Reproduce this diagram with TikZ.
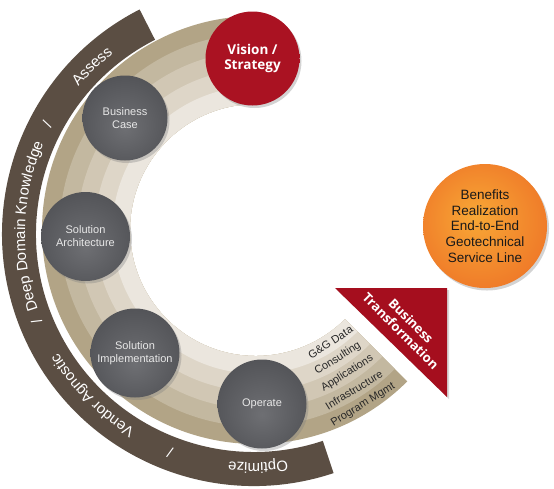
\documentclass[tikz,border=0pt]{standalone}
\usepackage{fontspec}
\setmainfont{Liberation Sans}
\newfontfamily\headfont{Open Sans}
\usetikzlibrary{decorations.text, shadows}

\definecolor{ringbrown}{RGB}{91,78,67}
\definecolor{bandA}{RGB}{235,230,222}
\definecolor{bandB}{RGB}{222,214,200}
\definecolor{bandC}{RGB}{209,199,180}
\definecolor{bandD}{RGB}{195,184,160}
\definecolor{bandE}{RGB}{178,164,134}
\definecolor{stratred}{RGB}{165,14,30}
\definecolor{visin}{RGB}{170,18,34}
\definecolor{visout}{RGB}{140,10,24}
\definecolor{ballin}{RGB}{110,111,115}
\definecolor{ballout}{RGB}{56,57,61}
\definecolor{phasetext}{RGB}{232,232,232}
\definecolor{orin}{RGB}{248,168,54}
\definecolor{orout}{RGB}{232,86,30}
\definecolor{layertext}{RGB}{40,40,40}

\pgfdeclareradialshading{darkball}{\pgfpoint{0bp}{-6bp}}{color(0bp)=(ballin); color(28bp)=(ballin!50!ballout); color(50bp)=(ballout)}
\pgfdeclareradialshading{redball}{\pgfpoint{0bp}{0bp}}{color(0bp)=(visin); color(38bp)=(visin); color(50bp)=(visout)}
\pgfdeclareradialshading{orangeball}{\pgfpoint{-4bp}{4bp}}{color(0bp)=(orin); color(50bp)=(orout)}

\newcommand\bandfont{\color{white}\fontsize{15}{15}\selectfont}

\begin{document}
\begin{tikzpicture}[x=1pt, y=1pt,
    phase/.style={circle, minimum size=#1, inner sep=0pt, align=center, shading=darkball,
        text=phasetext, font=\fontsize{11}{13}\selectfont,
        drop shadow={shadow xshift=2pt, shadow yshift=-2.5pt, opacity=0.35}},
    phase/.default=89pt,
    goal/.style={circle, minimum size=94pt, inner sep=0pt, align=center, shading=redball,
        text=white, font=\headfont\bfseries\fontsize{13.5}{15}\selectfont,
        drop shadow={shadow xshift=2pt, shadow yshift=-2.5pt, opacity=0.35}},
    outcome/.style={circle, minimum size=124pt, inner sep=0pt, align=center, shading=orangeball,
        text=black!90, font=\fontsize{13.5}{15.7}\selectfont,
        drop shadow={shadow xshift=2pt, shadow yshift=-2.5pt, opacity=0.35}},
    layer/.style={text=layertext, font=\fontsize{11}{12}\selectfont, inner sep=0pt},
    ringtext/.style={decorate, decoration={text along path, text align=center, text={|\bandfont|#1}}}]
    \useasboundingbox (0,-488) rectangle (554,0);

    % beige band with its five layers
    \begin{scope}[shift={(256,-230)}]
        \begin{scope}
            \clip (9.4,9.8) -- (296.5,-269.6) -- (-400,-400) -- (-400,400) -- (0,400) -- cycle;
            \foreach \r/\c in {214/bandE, 196.4/bandD, 178.8/bandC, 161.2/bandB, 143.6/bandA}
                \fill[\c] (96:126) arc[start angle=96, end angle=315, radius=126] -- (315:\r) arc[start angle=315, end angle=96, radius=\r] -- cycle;
        \end{scope}
        \node[layer, rotate=33.5] (ggdata) at (-56.5:134.8) {G\&G Data};
        \node[layer, rotate=32.5] (consult) at (-57.5:152.4) {Consulting};
        \node[layer, rotate=32.5] (apps) at (-57.5:170) {Applications};
        \node[layer, rotate=31.5] (infra) at (-58.5:187.6) {Infrastructure};
        \node[layer, rotate=31.5] (progmgmt) at (-58.5:205.2) {Program Mgmt};
    \end{scope}

    % outer brown ring
    \begin{scope}[shift={(254,-234)}]
        \fill[ringbrown] (117:218) arc[start angle=117, end angle=288.4, radius=218] -- (288.4:252) arc[start angle=288.4, end angle=117, radius=252] -- cycle;
        \path[ringtext=Assess] (150:229) arc[start angle=150, end angle=118, radius=229];
        \path[ringtext=/] (157:229) arc[start angle=157, end angle=147, radius=229];
        \path[ringtext=Deep Domain Knowledge] (210:229) arc[start angle=210, end angle=146, radius=229];
        \path[ringtext=/] (207:229) arc[start angle=207, end angle=197, radius=229];
        \path[ringtext=Vendor Agnostic] (250:229) arc[start angle=250, end angle=200, radius=229];
        \path[ringtext=/] (254:229) arc[start angle=254, end angle=244, radius=229];
        \path[ringtext=Optimize] (287:229) arc[start angle=287, end angle=255, radius=229];
    \end{scope}

    % arrow head
    \fill[stratred, drop shadow={shadow xshift=2pt, shadow yshift=-2pt, opacity=0.3}] (335,-288) -- (447,-288) -- (447,-397) -- cycle;
    \node[rotate=-45, align=center, text=white, font=\headfont\bfseries\fontsize{13}{14.5}\selectfont] (transf) at (406,-326) {Business\\Transformation};

    % phases
    \node[goal] (vision) at (252.5,-58.5) {Vision /\\Strategy};
    \node[phase=85pt] (bizcase) at (125,-118) {Business\\Case};
    \node[phase] (solarch) at (85.5,-236.5) {Solution\\Architecture};
    \node[phase] (solimpl) at (135,-353) {Solution\\Implementation};
    \node[phase] (operate) at (262,-404) {Operate};

    \node[outcome] (benefits) at (485,-226) {Benefits\\Realization\\End-to-End\\Geotechnical\\Service Line};
\end{tikzpicture}
\end{document}
